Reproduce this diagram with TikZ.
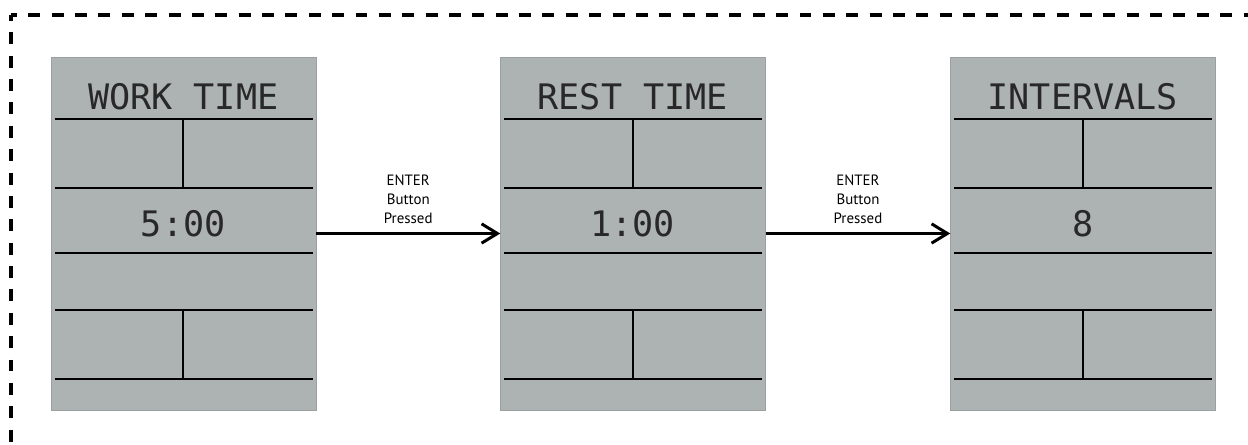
\documentclass[tikz,border=0pt]{standalone}
\usepackage{fontspec}
\setmainfont{PT Sans}
\newfontfamily\lcdfont{DejaVu Sans Mono}
\usetikzlibrary{arrows.meta}
\definecolor{panelgray}{RGB}{172,179,178}
\definecolor{lcdtext}{RGB}{40,40,40}
\tikzset{
  panel/.style={fill=panelgray, draw=panelgray!90!black, line width=0.3pt, minimum width=5.3cm, minimum height=7.06cm, inner sep=0pt},
  rowline/.style={line width=1.3pt},
  lcd/.style={font=\lcdfont\fontsize{20}{22}\selectfont, text=lcdtext, inner sep=0pt},
  frame/.style={line width=2pt, dash pattern=on 6.8pt off 6.5pt, dash phase=3.4pt},
  flow/.style={line width=1.7pt, -{Straight Barb[length=9pt,width=11pt,line width=1.7pt]}},
  flowlabel/.style={font=\fontsize{8.5}{10.8}\selectfont, align=center, inner sep=4.5pt}
}
\begin{document}
\begin{tikzpicture}[x=0.02cm,y=-0.02cm]
    \useasboundingbox (0,0) rectangle (1248,445);
    \clip (0,0) rectangle (1248,445);
    % outer dashed frame (runs off the page)
    \coordinate (corner) at (11,15);
    \draw[frame] (corner) -- (1280,15);
    \draw[frame] (corner) -- (11,475);
    % the three screens
    \foreach \px/\name/\title/\val in {183.5/work/WORK TIME/5:00, 633/rest/REST TIME/1:00, 1083/intervals/INTERVALS/8} {
        \node[panel] (\name) at (\px,233.5) {};
        \begin{scope}[shift={(\name.north west)}]
            \draw[rowline] (4,62) -- (262,62);
            \draw[rowline] (4,131) -- (262,131);
            \draw[rowline] (4,196) -- (262,196);
            \draw[rowline] (4,253) -- (262,253);
            \draw[rowline] (4,322) -- (262,322);
            \draw[rowline] (132.5,62) -- (132.5,131);
            \draw[rowline] (132.5,253) -- (132.5,322);
            \node[lcd] (\name-title) at (132.5,40) {\title};
            \node[lcd] (\name-value) at (132.5,166.5) {\val};
        \end{scope}
    }
    % transitions
    \draw[flow] (work) -- (rest) node[midway, above, flowlabel] {ENTER\\Button\\Pressed};
    \draw[flow] (rest) -- (intervals) node[midway, above, flowlabel] {ENTER\\Button\\Pressed};
\end{tikzpicture}
\end{document}
